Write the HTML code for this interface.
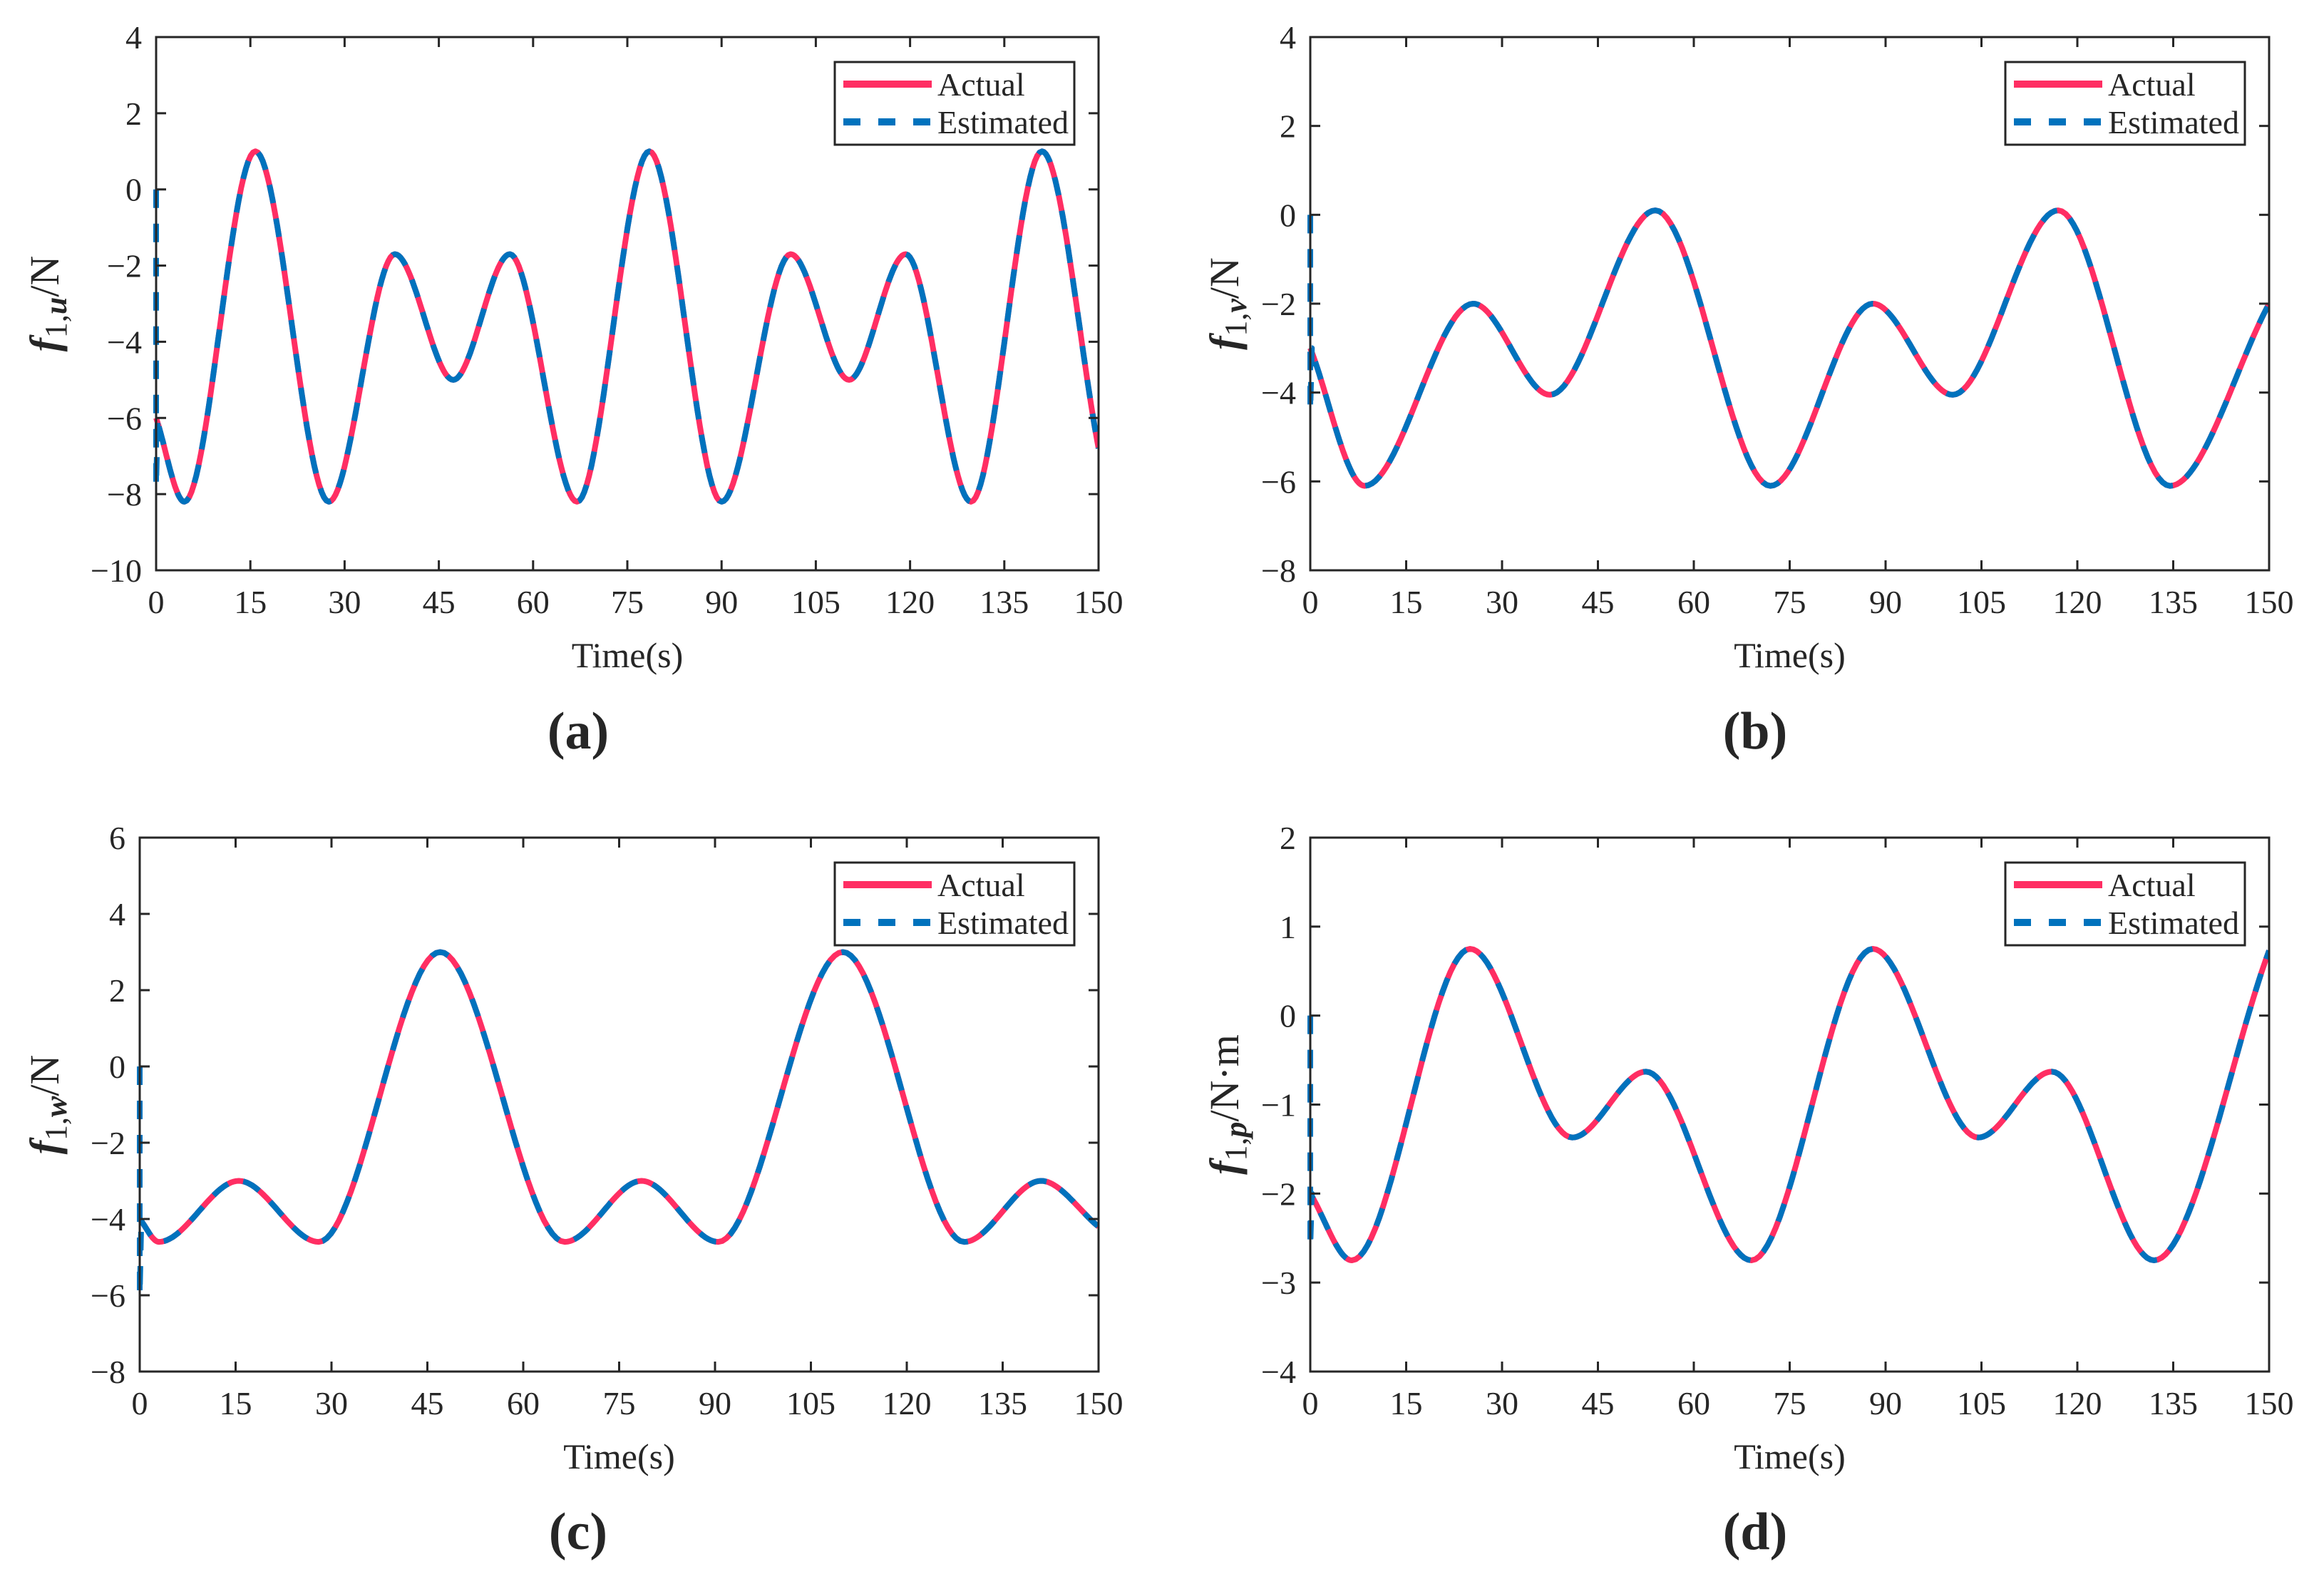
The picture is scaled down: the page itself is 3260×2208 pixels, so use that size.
<!DOCTYPE html>
<html><head><meta charset="utf-8">
<style>
html,body{margin:0;padding:0;background:#fff;}
svg{display:block;}
text{font-family:"Liberation Serif","DejaVu Serif",serif;fill:#262626;}
</style></head>
<body>
<svg id="fig" width="3260" height="2208" viewBox="0 0 3260 2208" xmlns="http://www.w3.org/2000/svg"></svg>
<script>
// ---- data (t in seconds, values at extrema) ----
const timeTicks = [0,15,30,45,60,75,90,105,120,135,150];

const aTime   = [0,4.5,15.8,27.5,38,47.3,56.3,67,78.5,90,101,110.3,119.3,129.7,141,150];
const aValues = [-6,-8.2,1.0,-8.2,-1.7,-5.0,-1.7,-8.2,1.0,-8.2,-1.7,-5.0,-1.7,-8.2,1.0,-6.8];
const aEstInit = [0,-7.8];
const aYTicks = [-10,-8,-6,-4,-2,0,2,4];

const bTime   = [0,8.5,25.5,37.5,54,72,88,100.5,117,134.5,150];
const bValues = [-3,-6.1,-2.0,-4.05,0.1,-6.1,-2.0,-4.05,0.1,-6.1,-2.0];
const bEstInit = [0,-4.4];
const bYTicks = [-8,-6,-4,-2,0,2,4];

const cTime   = [0,3,15.5,28,47,66.5,78.5,90.5,110,129,141,150];
const cValues = [-4.0,-4.6,-3.0,-4.6,3.0,-4.6,-3.0,-4.6,3.0,-4.6,-3.0,-4.2];
const cEstInit = [0,-6];
const cYTicks = [-8,-6,-4,-2,0,2,4,6];

const dTime   = [0,6.5,25,41,52.5,69,88,104.5,116,132,150];
const dValues = [-2.0,-2.75,0.75,-1.37,-0.63,-2.75,0.75,-1.37,-0.63,-2.75,0.73];
const dEstInit = [0,-2.6];
const dYTicks = [-4,-3,-2,-1,0,1,2];

const NS="http://www.w3.org/2000/svg";
const svg=document.getElementById('fig');
function mk(tag,attrs,parent){const e=document.createElementNS(NS,tag);for(const k in attrs)e.setAttribute(k,attrs[k]);(parent||svg).appendChild(e);return e;}

// monotone cubic hermite through data points (rendering only)
function curvePath(ts,vs,sx,sy){
  const n=ts.length,m=[],d=[];
  for(let i=0;i<n-1;i++)d.push((vs[i+1]-vs[i])/(ts[i+1]-ts[i]));
  for(let i=0;i<n;i++){
    if(i===0)m.push(d[0]);else if(i===n-1)m.push(d[n-2]);
    else if(d[i-1]*d[i]<=0)m.push(0);
    else{const h0=ts[i]-ts[i-1],h1=ts[i+1]-ts[i];const w1=2*h1+h0,w2=h1+2*h0;m.push((w1+w2)/(w1/d[i-1]+w2/d[i]));}
  }
  let p='M'+sx(ts[0]).toFixed(1)+','+sy(vs[0]).toFixed(1);
  for(let i=0;i<n-1;i++){
    const h=ts[i+1]-ts[i];
    for(let k=1;k<=30;k++){
      const s=k/30,s2=s*s,s3=s2*s;
      const v=(2*s3-3*s2+1)*vs[i]+(s3-2*s2+s)*h*m[i]+(-2*s3+3*s2)*vs[i+1]+(s3-s2)*h*m[i+1];
      p+='L'+sx(ts[i]+s*h).toFixed(1)+','+sy(v).toFixed(1);
    }
  }
  return p;
}

const PINK='#ff2e63',BLUE='#0072bd',AX='#262626';

function panel(o){
  const g=mk('g',{});
  
  
  const {x0,x1,y0,y1,ymin,ymax}=o;
  const sx=t=>x0+(t-0)/(150-0)*(x1-x0);
  const sy=v=>y1-(v-ymin)/(ymax-ymin)*(y1-y0);
  const clipId='clip'+o.id;
  const cp=mk('clipPath',{id:clipId},g);mk('rect',{x:x0-10,y:y0,width:x1-x0+10,height:y1-y0},cp);
  // series
  const act=mk('path',{d:curvePath(o.t,o.v,sx,sy),fill:'none',stroke:PINK,'stroke-width':8,'stroke-linejoin':'round','clip-path':'url(#'+clipId+')'},g);
  
  
  const estD='M'+sx(0)+','+sy(o.est[0])+'L'+sx(0)+','+sy(o.est[1])+'L'+sx(0.25)+','+sy(o.v[0])+curvePath(o.t,o.v,sx,sy).replace(/^M/,'L');
  const est=mk('path',{d:estD,fill:'none',stroke:BLUE,'stroke-width':8,'stroke-dasharray':'26 22','stroke-linejoin':'round','clip-path':'url(#'+clipId+')'},g);
  
  
  // axes box
  const box=mk('rect',{x:x0,y:y0,width:x1-x0,height:y1-y0,fill:'none',stroke:AX,'stroke-width':3},g);
  
  
  // x ticks
  timeTicks.forEach(t=>{
    const X=sx(t);
    mk('line',{x1:X,y1:y1,x2:X,y2:y1-14,stroke:AX,'stroke-width':3},g);
    mk('line',{x1:X,y1:y0,x2:X,y2:y0+14,stroke:AX,'stroke-width':3},g);
    const tl=mk('text',{x:X,y:y1+60,'font-size':46,'text-anchor':'middle'},g);tl.textContent=t;
    
    
  });
  o.yt.forEach(v=>{
    const Y=sy(v);
    mk('line',{x1:x0,y1:Y,x2:x0+14,y2:Y,stroke:AX,'stroke-width':3},g);
    mk('line',{x1:x1,y1:Y,x2:x1-14,y2:Y,stroke:AX,'stroke-width':3},g);
    const tl=mk('text',{x:x0-20,y:Y+16,'font-size':46,'text-anchor':'end'},g);tl.textContent=(v<0?'\u2212'+(-v):v);
    
    
  });
  // x label
  const xl=mk('text',{x:(x0+x1)/2,y:y1+136,'font-size':50,'text-anchor':'middle'},g);xl.textContent='Time(s)';
  
  
  // y label
  const yl=mk('text',{x:0,y:0,'font-size':58,'text-anchor':'middle',transform:'translate('+(o.ylx)+','+((y0+y1)/2)+') rotate(-90)'},g);
  
  
  const f=mk('tspan',{'font-style':'italic','font-weight':'bold'},yl);f.textContent='f';
  const s1=mk('tspan',{'font-size':44,dy:11},yl);s1.textContent='1,';
  const s2=mk('tspan',{'font-size':44,'font-style':'italic','font-weight':'bold'},yl);s2.textContent=o.sub;
  const s3=mk('tspan',{dy:-11},yl);s3.textContent='/'+o.unit;
  // legend
  const lx=x1-370,ly=y0+35;
  const lg=mk('g',{},g);
  
  
  mk('rect',{x:lx,y:ly,width:336,height:116,fill:'#fff',stroke:AX,'stroke-width':3},lg);
  mk('line',{x1:lx+12,y1:ly+31,x2:lx+136,y2:ly+31,stroke:PINK,'stroke-width':10},lg);
  mk('line',{x1:lx+12,y1:ly+84,x2:lx+136,y2:ly+84,stroke:BLUE,'stroke-width':10,'stroke-dasharray':'24 25'},lg);
  const t1=mk('text',{x:lx+144,y:ly+47,'font-size':46,fill:'#000'},lg);t1.textContent='Actual';
  
  
  const t2=mk('text',{x:lx+144,y:ly+100,'font-size':46,fill:'#000'},lg);t2.textContent='Estimated';
  
  
  // caption
  const cap=mk('text',{x:o.capx,y:o.capy,'font-size':74,'font-weight':'bold','text-anchor':'middle'},g);cap.textContent='('+o.id+')';
  
  
}

panel({id:'a',x0:219,x1:1541,y0:52,y1:800,ymin:-10,ymax:4,t:aTime,v:aValues,est:aEstInit,yt:aYTicks,sub:'u',unit:'N',ylx:82,capx:811,capy:1050});
panel({id:'b',x0:1838,x1:3183,y0:52,y1:800,ymin:-8,ymax:4,t:bTime,v:bValues,est:bEstInit,yt:bYTicks,sub:'v',unit:'N',ylx:1737,capx:2462,capy:1050});
panel({id:'c',x0:196,x1:1541,y0:1175,y1:1924,ymin:-8,ymax:6,t:cTime,v:cValues,est:cEstInit,yt:cYTicks,sub:'w',unit:'N',ylx:82,capx:811,capy:2173});
panel({id:'d',x0:1838,x1:3183,y0:1175,y1:1924,ymin:-4,ymax:2,t:dTime,v:dValues,est:dEstInit,yt:dYTicks,sub:'p',unit:'N\u00b7m',ylx:1737,capx:2462,capy:2173});
</script>
</body></html>
